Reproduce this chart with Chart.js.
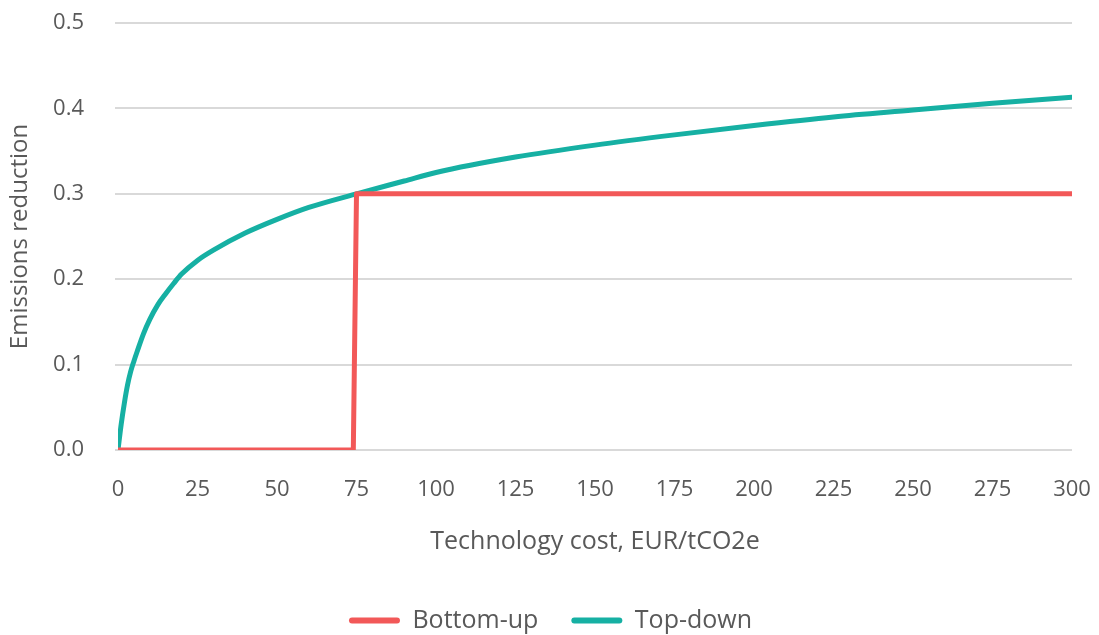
<!DOCTYPE html>
<html>
<head>
<meta charset="utf-8">
<script src="https://cdn.jsdelivr.net/npm/chart.js@4/dist/chart.umd.min.js"></script>
<style>
  html, body { margin: 0; padding: 0; background: #ffffff; }
  #wrap { width: 1099px; height: 635px; }
</style>
</head>
<body>
<div id="wrap"><canvas id="c" width="1099" height="635"></canvas></div>
<script>
// Technology cost (EUR/tCO2e) vs. share of emissions reduced
const bottomUpCost = [0, 74, 75, 300];
const bottomUpReduction = [0, 0, 0.3, 0.3];

const topDownCost = [0, 1, 2, 3, 4, 5, 6, 8, 10, 12.5, 15, 17.5, 20, 25, 30, 40, 50, 60, 75, 90, 100, 125, 150, 175, 200, 225, 250, 275, 300];
const topDownReduction = [0, 0.03, 0.055, 0.076, 0.092, 0.104, 0.115, 0.136, 0.153, 0.17, 0.183, 0.195, 0.206, 0.222, 0.234, 0.254, 0.27, 0.284, 0.3, 0.315, 0.325, 0.343, 0.357, 0.369, 0.38, 0.39, 0.398, 0.406, 0.413];

const seriesNames = ['Bottom-up', 'Top-down'];
const xTitle = 'Technology cost, EUR/tCO2e';
const yTitle = 'Emissions reduction';

const RED = '#F25858';
const TEAL = '#16B0A3';
const TEXT = '#595959';
const FONT = 'Open Sans';

const toPoints = (xs, ys) => xs.map((x, i) => ({ x: x, y: ys[i] }));

new Chart(document.getElementById('c'), {
  type: 'line',
  data: {
    datasets: [
      {
        label: seriesNames[0],
        data: toPoints(bottomUpCost, bottomUpReduction),
        borderColor: RED,
        backgroundColor: RED,
        borderWidth: 5,
        pointRadius: 0,
        tension: 0,
        borderCapStyle: 'round',
        borderJoinStyle: 'round'
      },
      {
        label: seriesNames[1],
        data: toPoints(topDownCost, topDownReduction),
        borderColor: TEAL,
        backgroundColor: TEAL,
        borderWidth: 5,
        pointRadius: 0,
        cubicInterpolationMode: 'monotone',
        borderCapStyle: 'round',
        borderJoinStyle: 'round'
      }
    ]
  },
  options: {
    responsive: false,
    animation: false,
    layout: { padding: { top: 0, right: 0, left: 2, bottom: -8 } },
    plugins: {
      legend: {
        position: 'bottom',
        labels: {
          color: TEXT,
          font: { family: FONT, size: 25 },
          boxWidth: 51,
          boxHeight: 6,
          padding: 33,
          generateLabels(chart) {
            return chart.data.datasets.map((ds, i) => ({
              text: ds.label,
              fillStyle: ds.borderColor,
              strokeStyle: ds.borderColor,
              lineWidth: 0,
              borderRadius: 3,
              fontColor: TEXT,
              datasetIndex: i,
              hidden: false
            }));
          }
        }
      },
      tooltip: { enabled: false }
    },
    scales: {
      x: {
        type: 'linear',
        min: 0,
        max: 300,
        ticks: { stepSize: 25, color: TEXT, font: { family: FONT, size: 22 }, padding: 19, maxRotation: 0 },
        grid: { display: false },
        border: { display: false },
        title: { display: true, text: xTitle, color: TEXT, font: { family: FONT, size: 25 }, padding: { top: 10, bottom: 18 } },
        afterFit(scale) {
          scale.height = 125;
          scale.paddingLeft = 0;
          scale.paddingRight = 27;
        }
      },
      y: {
        min: 0,
        max: 0.5,
        ticks: { stepSize: 0.1, color: TEXT, font: { family: FONT, size: 22 }, padding: 31, callback: v => Number(v).toFixed(1) },
        grid: { color: '#D9D9D9', lineWidth: 2, drawTicks: true, tickLength: 3, tickColor: '#D9D9D9' },
        border: { display: false },
        title: { display: true, text: yTitle, color: TEXT, font: { family: FONT, size: 24 }, padding: { top: 4, bottom: 10 } },
        afterFit(scale) {
          scale.width = 116;
          scale.paddingTop = 23;
          scale.paddingBottom = 0;
        }
      }
    }
  }
});
</script>
</body>
</html>
